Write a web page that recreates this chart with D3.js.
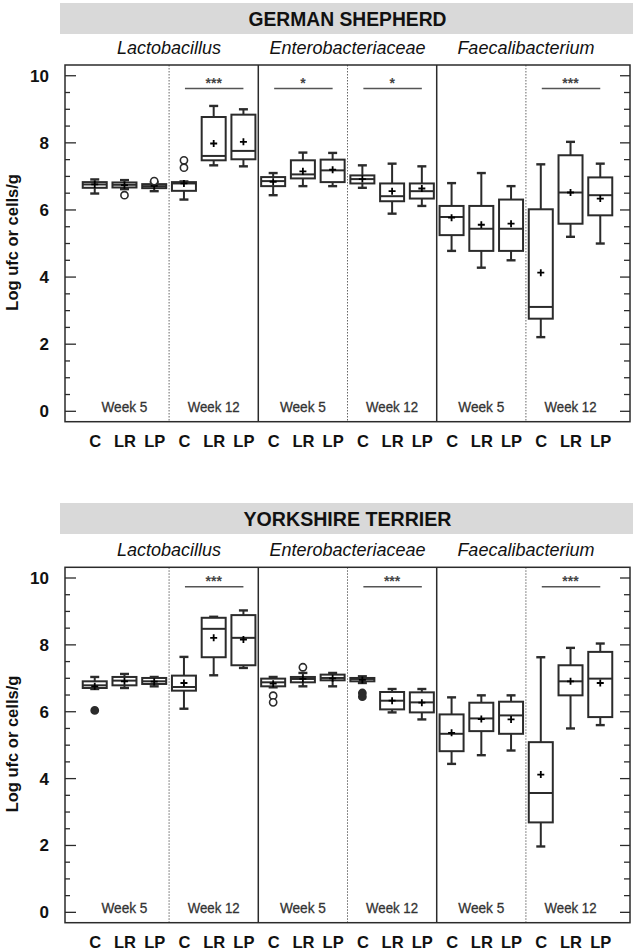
<!DOCTYPE html>
<html><head><meta charset="utf-8">
<script src="https://cdn.jsdelivr.net/npm/d3@7"></script>
<style>
html,body{margin:0;padding:0;background:#fff;}
svg{display:block;}
.narrow{font-family:"Liberation Sans Narrow","Arial Narrow","Liberation Sans",Arial,sans-serif;}
.arial{font-family:"Liberation Sans",Arial,sans-serif;}
</style>
</head><body>
<svg id="chart" width="633" height="951"></svg>
<script>
// ---------- data ----------
const genera = ["Lactobacillus", "Enterobacteriaceae", "Faecalibacterium"];
const weeks = ["Week 5", "Week 12"];
const groups = ["C", "LR", "LP"];
const yTicks = [0, 2, 4, 6, 8, 10];
const panelTitles = ["GERMAN SHEPHERD", "YORKSHIRE TERRIER"];

// German Shepherd: 18 boxes (genus x week x group)
const gsLo   = [6.49,6.62,6.56, 6.31,7.33,7.30, 6.44,6.71,6.71, 6.66,5.89,6.12, 4.78,4.28,4.50, 2.21,5.20,5.00];
const gsQ1   = [6.66,6.67,6.65, 6.57,7.48,7.51, 6.71,6.94,6.83, 6.79,6.26,6.34, 5.25,4.78,4.78, 2.76,5.59,5.84];
const gsMed  = [6.76,6.75,6.71, 6.79,7.61,7.76, 6.86,7.06,7.18, 6.92,6.41,6.56, 5.79,5.44,5.44, 3.11,6.52,6.44];
const gsQ3   = [6.83,6.82,6.77, 6.83,8.77,8.84, 6.98,7.48,7.50, 7.03,6.79,6.79, 6.12,6.12,6.31, 6.02,7.63,6.97];
const gsHi   = [6.91,6.89,6.83, 6.85,9.10,9.00, 7.10,7.71,7.70, 7.33,7.38,7.30, 6.80,7.10,6.71, 7.36,8.03,7.38];
const gsMean = [6.76,6.74,6.72, 6.79,7.98,8.03, 6.84,7.15,7.20, 6.92,6.56,6.64, 5.77,5.56,5.59, 4.13,6.52,6.34];
const gsOutIdx = [1, 2, 3, 3];
const gsOutVal = [6.44, 6.86, 7.26, 7.48];
const gsOutFill = [false, false, false, false];
const gsSigFrom = [3, 6, 9, 15];
const gsSigTo = [5, 8, 11, 17];
const gsSigLabel = ["***", "*", "*", "***"];
const gsSigLevel = [9.62, 9.62, 9.62, 9.62];

// Yorkshire Terrier
const ytLo   = [6.68,6.71,6.76, 6.09,7.09,7.31, 6.73,6.76,6.76, 6.86,5.98,5.77, 4.44,4.70,4.84, 1.97,5.50,5.60];
const ytQ1   = [6.71,6.79,6.83, 6.63,7.63,7.39, 6.76,6.88,6.94, 6.91,6.07,5.98, 4.82,5.42,5.34, 2.69,6.49,5.84];
const ytMed  = [6.79,6.93,6.91, 6.74,8.48,8.21, 6.88,6.98,7.01, 6.98,6.33,6.28, 5.34,5.80,5.89, 3.57,6.91,6.99];
const ytQ3   = [6.91,7.04,7.01, 7.08,8.81,8.89, 6.99,7.04,7.11, 7.01,6.59,6.58, 5.92,6.27,6.30, 5.09,7.39,7.79];
const ytHi   = [7.04,7.13,7.04, 7.64,8.84,9.03, 7.04,7.16,7.16, 7.06,6.68,6.68, 6.43,6.49,6.49, 7.63,7.91,8.04];
const ytMean = [6.76,6.91,6.90, 6.86,8.21,8.16, 6.84,6.98,7.00, 6.95,6.33,6.27, 5.37,5.78,5.77, 4.12,6.91,6.86];
const ytOutIdx = [0, 6, 6, 7, 9, 9];
const ytOutVal = [6.04, 6.48, 6.28, 7.33, 6.56, 6.45];
const ytOutFill = [true, false, false, false, true, true];
const ytSigFrom = [3, 9, 15];
const ytSigTo = [5, 11, 17];
const ytSigLabel = ["***", "***", "***"];
const ytSigLevel = [9.74, 9.74, 9.74];

// ---------- build ----------
function boxes(lo,q1,med,q3,hi,mean){
  return lo.map((d,i)=>({i, lo:d, q1:q1[i], med:med[i], q3:q3[i], hi:hi[i], mean:mean[i]}));
}
const panels = [
  {title:panelTitles[0], tw:198, box:boxes(gsLo,gsQ1,gsMed,gsQ3,gsHi,gsMean),
   out:gsOutIdx.map((d,k)=>({i:d,v:gsOutVal[k],f:gsOutFill[k]})),
   sig:gsSigFrom.map((d,k)=>({a:d,b:gsSigTo[k],t:gsSigLabel[k],v:gsSigLevel[k]})),
   band:[3,34], top:65, bottom:421.7},
  {title:panelTitles[1], tw:208, box:boxes(ytLo,ytQ1,ytMed,ytQ3,ytHi,ytMean),
   out:ytOutIdx.map((d,k)=>({i:d,v:ytOutVal[k],f:ytOutFill[k]})),
   sig:ytSigFrom.map((d,k)=>({a:d,b:ytSigTo[k],t:ytSigLabel[k],v:ytSigLevel[k]})),
   band:[503,534], top:567.3, bottom:922.7}
];

const svg = d3.select("#chart");
const L = 65, R = 630;
const idx = d3.range(18);
const x = d3.scalePoint().domain(idx).range([L, R]).padding(1);
const bw = 24, capW = 9;
const ink = "#2b2b2b";

panels.forEach(p => {
  const y = d3.scaleLinear().domain([-0.31, 10.32]).range([p.bottom, p.top]);
  const g = svg.append("g");

  // header band
  g.append("rect").attr("x", 60).attr("y", p.band[0]).attr("width", 573)
    .attr("height", p.band[1]-p.band[0]).attr("fill", "#d9d9d9");
  g.append("text").attr("class","narrow").attr("x", (L+R)/2).attr("y", p.band[1]-8)
    .attr("text-anchor","middle").attr("font-size", 21).attr("font-weight","bold")
    .attr("textLength", p.tw).attr("lengthAdjust","spacingAndGlyphs")
    .attr("fill","#111").text(p.title);

  // genus labels
  genera.forEach((gn, k) => {
    const cx = (x(k*6) + x(k*6+5))/2;
    g.append("text").attr("class","narrow").attr("x", cx).attr("y", p.top - 11)
      .attr("text-anchor","middle").attr("font-size", 18).attr("font-style","italic")
      .attr("fill","#111").text(gn);
  });

  // separators
  [2,5,8,11,14].forEach(k => {
    const sx = (x(k) + x(k+1))/2;
    const solid = (k===5 || k===11);
    g.append("line").attr("x1", sx).attr("x2", sx).attr("y1", p.top).attr("y2", p.bottom)
      .attr("stroke", solid ? ink : "#666").attr("stroke-width", solid ? 1.5 : 1)
      .attr("stroke-dasharray", solid ? null : "1.5,1.5");
  });

  // week labels (condensed)
  d3.range(6).forEach(s => {
    const cx = (x(s*3) + x(s*3+2))/2;
    const w = weeks[s%2];
    g.append("text").attr("class","narrow").attr("x", cx).attr("y", y(0) + 1)
      .attr("text-anchor","middle").attr("font-size", 15.5).attr("fill","#333")
      .attr("stroke","#333").attr("stroke-width",0.3)
      .attr("textLength", w.length === 6 ? 46 : 52).attr("lengthAdjust","spacingAndGlyphs")
      .text(w);
  });

  // ticks left (inside) and right (inside)
  const tk = d3.range(0, 10.01, 0.5);
  tk.forEach(t => {
    const major = Math.abs(t % 2) < 1e-6;
    g.append("line").attr("x1", L).attr("x2", L + (major ? 11 : 5)).attr("y1", y(t)).attr("y2", y(t))
      .attr("stroke", ink).attr("stroke-width", 1.3);
    g.append("line").attr("x1", R).attr("x2", R - (major ? 10 : 6)).attr("y1", y(t)).attr("y2", y(t))
      .attr("stroke", ink).attr("stroke-width", 1.3);
  });
  // y tick labels
  const yAxis = d3.axisLeft(y).tickValues(yTicks).tickSize(0).tickPadding(16);
  const ya = g.append("g").attr("transform", `translate(${L},0)`).call(yAxis);
  ya.select(".domain").remove();
  ya.selectAll("text").attr("class","arial").attr("font-size", 17).attr("font-weight","bold").attr("fill","#111");

  // frame
  g.append("rect").attr("x", L).attr("y", p.top).attr("width", R-L).attr("height", p.bottom-p.top)
    .attr("fill","none").attr("stroke", ink).attr("stroke-width", 1.5);

  // x axis labels
  const xAxis = d3.axisBottom(x).tickSize(0).tickPadding(0).tickFormat(i => groups[i%3]);
  const xa = g.append("g").attr("transform", `translate(0,${p.bottom})`).call(xAxis);
  xa.select(".domain").remove();
  xa.selectAll("text").attr("class","arial").attr("font-size", 16.5).attr("font-weight","bold")
    .attr("fill","#111").attr("dy", null).attr("y", 25.5);

  // y title
  g.append("text").attr("class","arial")
    .attr("transform", `translate(18,${(p.top+p.bottom)/2 - 1}) rotate(-90)`)
    .attr("text-anchor","middle").attr("font-size", 16.5).attr("font-weight","bold")
    .attr("fill","#111").text("Log ufc or cells/g");

  // boxes
  const bx = g.selectAll("g.box").data(p.box).join("g").attr("class","box");
  bx.append("line").attr("x1", d=>x(d.i)).attr("x2", d=>x(d.i)).attr("y1", d=>y(d.hi)).attr("y2", d=>y(d.q3))
    .attr("stroke", ink).attr("stroke-width", 2);
  bx.append("line").attr("x1", d=>x(d.i)).attr("x2", d=>x(d.i)).attr("y1", d=>y(d.q1)).attr("y2", d=>y(d.lo))
    .attr("stroke", ink).attr("stroke-width", 2);
  bx.append("line").attr("x1", d=>x(d.i)-capW/2).attr("x2", d=>x(d.i)+capW/2).attr("y1", d=>y(d.hi)).attr("y2", d=>y(d.hi))
    .attr("stroke", ink).attr("stroke-width", 2.4);
  bx.append("line").attr("x1", d=>x(d.i)-capW/2).attr("x2", d=>x(d.i)+capW/2).attr("y1", d=>y(d.lo)).attr("y2", d=>y(d.lo))
    .attr("stroke", ink).attr("stroke-width", 2.4);
  bx.append("rect").attr("x", d=>x(d.i)-bw/2).attr("width", bw)
    .attr("y", d=>y(d.q3)).attr("height", d=>Math.max(1, y(d.q1)-y(d.q3)))
    .attr("fill","#fff").attr("stroke", ink).attr("stroke-width", 2);
  bx.append("line").attr("x1", d=>x(d.i)-bw/2).attr("x2", d=>x(d.i)+bw/2).attr("y1", d=>y(d.med)).attr("y2", d=>y(d.med))
    .attr("stroke", ink).attr("stroke-width", 2);
  // mean marker "+"
  bx.append("path").attr("d", d=>{
      const cx = x(d.i), cy = y(d.mean);
      return `M${cx-3.5},${cy}H${cx+3.5}M${cx},${cy-3.5}V${cy+3.5}`;
    }).attr("stroke", "#000").attr("stroke-width", 1.8).attr("fill","none");

  // outliers
  g.selectAll("circle.out").data(p.out).join("circle").attr("class","out")
    .attr("cx", d=>x(d.i)).attr("cy", d=>y(d.v)).attr("r", 3.6)
    .attr("fill", d=>d.f ? ink : "#fff").attr("stroke", ink).attr("stroke-width", 1.6);

  // significance
  p.sig.forEach(s => {
    g.append("line").attr("x1", x(s.a)+1).attr("x2", x(s.b)).attr("y1", y(s.v)).attr("y2", y(s.v))
      .attr("stroke", "#555").attr("stroke-width", 1.4);
    g.append("text").attr("class","arial").attr("x", (x(s.a)+x(s.b))/2).attr("y", y(s.v) - 0.5)
      .attr("text-anchor","middle").attr("font-size", 14).attr("font-weight","bold")
      .attr("fill","#444").text(s.t);
  });
});
</script>
</body></html>
